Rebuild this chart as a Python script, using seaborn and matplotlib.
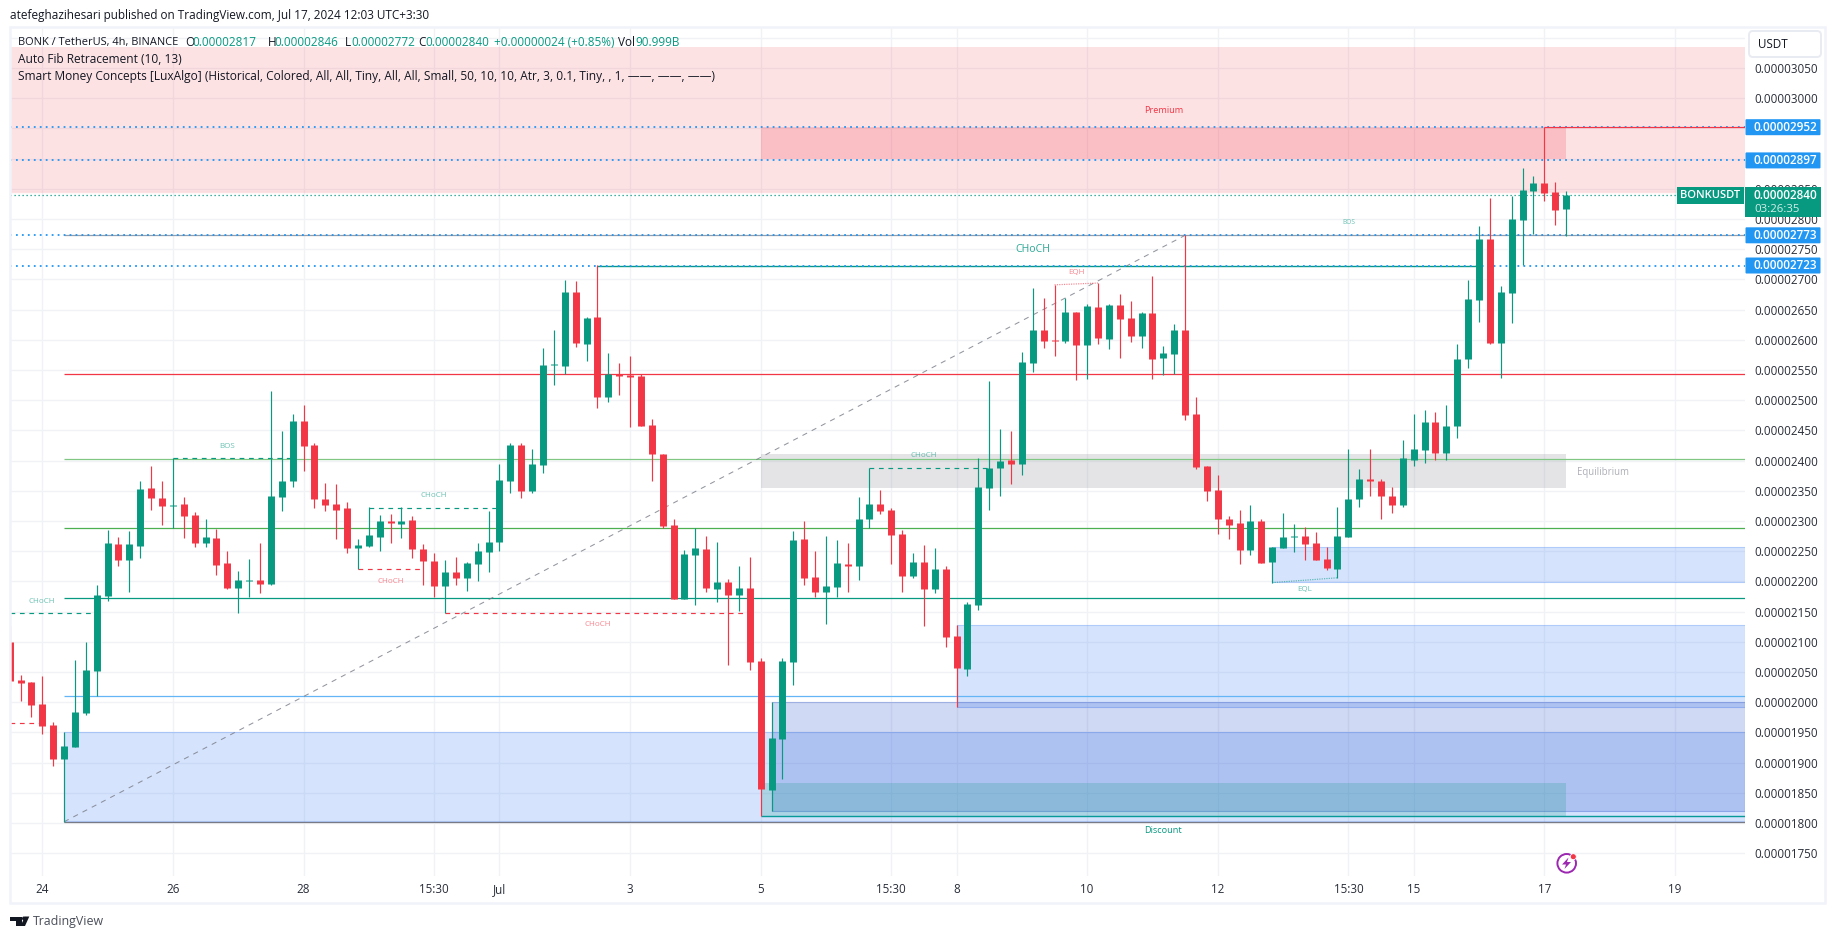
import numpy as np
import pandas as pd
import matplotlib
matplotlib.use("Agg")
import matplotlib.pyplot as plt
from matplotlib.colors import to_rgba
from matplotlib.patches import Rectangle, Circle, Polygon, FancyBboxPatch
import seaborn as sns

sns.set_theme(style="white")
plt.rcParams['font.family'] = ['Open Sans', 'DejaVu Sans']

# prices are in units of 1e-8 USDT, one 4h bar per entry, bar 0 = Jun 24 00:00
first_bar = -3
opens = [2100, 2037, 2033, 1997, 1962, 1906, 1926, 1982, 2052, 2176, 2262, 2235, 2259, 2355, 2338, 2325,
         2328, 2310, 2264, 2272, 2230, 2189, 2201, 2202, 2196, 2340, 2366, 2466, 2426, 2336, 2328, 2321,
         2255, 2259, 2273, 2300, 2295, 2302, 2254, 2234, 2192, 2216, 2206, 2229, 2249, 2265, 2366, 2426,
         2350, 2393, 2558, 2557, 2679, 2593, 2638, 2505, 2543, 2542, 2540, 2459, 2411, 2293, 2171, 2244,
         2254, 2187, 2199, 2177, 2189, 2068, 1855, 1939, 2067, 2270, 2207, 2182, 2191, 2229, 2226, 2303,
         2328, 2318, 2278, 2209, 2232, 2187, 2221, 2110, 2055, 2161, 2355, 2388, 2401, 2394, 2562, 2616,
         2600, 2598, 2646, 2591, 2654, 2601, 2658, 2636, 2606, 2644, 2570, 2576, 2616, 2477, 2391, 2351,
         2303, 2297, 2252, 2300, 2232, 2255, 2273, 2275, 2264, 2237, 2221, 2273, 2336, 2370, 2366, 2341,
         2326, 2401, 2418, 2464, 2413, 2457, 2568, 2666, 2767, 2595, 2677, 2798, 2846, 2860, 2845, 2817]
closes = [2035, 2032, 1995, 1961, 1906, 1927, 1984, 2053, 2177, 2264, 2235, 2262, 2353, 2338, 2325, 2327,
          2308, 2264, 2273, 2227, 2189, 2202, 2203, 2196, 2341, 2366, 2466, 2424, 2336, 2326, 2318, 2255,
          2260, 2277, 2300, 2297, 2300, 2254, 2234, 2192, 2216, 2206, 2230, 2250, 2265, 2368, 2426, 2350,
          2394, 2558, 2560, 2679, 2595, 2636, 2505, 2544, 2540, 2538, 2457, 2411, 2292, 2171, 2245, 2255,
          2189, 2199, 2177, 2189, 2067, 1856, 1941, 2068, 2269, 2206, 2182, 2192, 2230, 2226, 2303, 2328,
          2317, 2277, 2209, 2232, 2187, 2221, 2108, 2057, 2163, 2356, 2388, 2399, 2394, 2563, 2616, 2598,
          2598, 2646, 2591, 2656, 2603, 2658, 2634, 2606, 2644, 2568, 2578, 2616, 2475, 2389, 2350, 2303,
          2293, 2252, 2300, 2230, 2257, 2273, 2275, 2262, 2235, 2222, 2275, 2336, 2370, 2366, 2341, 2326,
          2404, 2419, 2464, 2413, 2457, 2568, 2668, 2767, 2595, 2679, 2800, 2848, 2860, 2843, 2815, 2840]
highs = [2126, 2045, 2033, 2043, 1967, 1950, 2070, 2100, 2194, 2285, 2274, 2283, 2366, 2391, 2366, 2404,
         2340, 2315, 2303, 2287, 2250, 2217, 2237, 2264, 2515, 2449, 2477, 2492, 2429, 2363, 2361, 2331,
         2270, 2323, 2310, 2312, 2323, 2308, 2262, 2247, 2235, 2240, 2232, 2264, 2317, 2394, 2429, 2429,
         2419, 2586, 2616, 2699, 2697, 2638, 2724, 2578, 2562, 2573, 2543, 2469, 2411, 2303, 2252, 2288,
         2275, 2265, 2204, 2225, 2240, 2073, 2000, 2073, 2283, 2300, 2250, 2275, 2269, 2264, 2340, 2388,
         2351, 2322, 2285, 2247, 2260, 2255, 2226, 2128, 2166, 2404, 2532, 2452, 2449, 2580, 2686, 2669,
         2691, 2669, 2646, 2659, 2694, 2659, 2676, 2664, 2646, 2706, 2590, 2626, 2773, 2505, 2391, 2376,
         2308, 2318, 2326, 2303, 2257, 2313, 2295, 2290, 2282, 2257, 2323, 2419, 2386, 2419, 2370, 2356,
         2434, 2477, 2484, 2480, 2492, 2593, 2699, 2788, 2835, 2689, 2838, 2884, 2871, 2953, 2861, 2846]
lows = [2020, 2002, 1975, 1947, 1894, 1802, 1926, 1979, 2010, 2168, 2225, 2182, 2239, 2318, 2293, 2288,
        2272, 2257, 2257, 2211, 2187, 2148, 2174, 2181, 2194, 2317, 2356, 2383, 2321, 2317, 2270, 2247,
        2220, 2257, 2250, 2264, 2272, 2239, 2194, 2174, 2147, 2194, 2184, 2201, 2216, 2250, 2346, 2338,
        2346, 2379, 2525, 2544, 2588, 2565, 2487, 2497, 2509, 2456, 2457, 2366, 2288, 2171, 2171, 2161,
        2182, 2166, 2061, 2151, 2053, 1812, 1820, 1873, 2028, 2194, 2174, 2129, 2174, 2182, 2202, 2288,
        2312, 2229, 2182, 2206, 2126, 2181, 2091, 1992, 2043, 2153, 2318, 2341, 2361, 2376, 2547, 2586,
        2573, 2595, 2533, 2535, 2593, 2585, 2570, 2596, 2586, 2535, 2542, 2544, 2467, 2386, 2333, 2278,
        2270, 2229, 2244, 2230, 2198, 2255, 2249, 2235, 2235, 2219, 2206, 2273, 2323, 2341, 2303, 2313,
        2323, 2391, 2396, 2401, 2401, 2437, 2553, 2629, 2593, 2537, 2628, 2724, 2775, 2830, 2790, 2772]

date_bars = [0, 12, 24, 36, 42, 54, 66, 78, 84, 96, 108, 120, 126, 138, 150]
date_labels = ['24', '26', '28', '15:30', 'Jul', '3', '5', '15:30', '8', '10', '12', '15:30', '15', '17', '19']
price_ticks = list(range(1750, 3101, 50))

# auto fib levels, start bar 2
fib_levels = [2544, 2402, 2288, 2173, 2010, 1802, 2773]
fib_colors = ['#f23645', '#81c784', '#4caf50', '#089981', '#64b5f6', '#787b86', '#9a9ca5']
fib_start = (2, 1802)
fib_end = (105, 2773)

# dotted levels with a price tag on the axis
level_prices = [2952, 2897, 2773, 2723]

# zones: left bar, right bar (None = runs to the axis), top, bottom, colour, alpha
premium = (None, None, 3084, 2845, '#f23645', .14)
supply = (66, 140, 2953, 2900, '#f23645', .2)
equilibrium = (66, 140, 2411, 2355, '#787b86', .2)
blocks = [(2, None, 1950, 1804, '#2f75f5', .2),
          (84, None, 2128, 1992, '#2f75f5', .2),
          (67, None, 2000, 1820, '#1441c3', .2),
          (113, None, 2257, 2199, '#2f75f5', .2)]
discount = (66, 140, 1867, 1812, '#089981', .2)

# structure breaks: start bar, end bar, start price, end price, label, label bar, label price
up = '#089981'
down = '#f23645'
dashed = [(-3, 5, 2147, 2147, up, 'CHoCH', 0, 2167),
          (-3, 0, 1966, 1966, down, '', 0, 0),
          (12, 23, 2404, 2404, up, 'BOS', 17, 2423),
          (30, 42, 2322, 2322, up, 'CHoCH', 36, 2342),
          (29, 35, 2220, 2220, down, 'CHoCH', 32, 2200),
          (37, 65, 2147, 2147, down, 'CHoCH', 51, 2129),
          (76, 87, 2388, 2388, up, 'CHoCH', 81, 2408)]
dotted = [(93, 97, 2691, 2694, down, 'EQH', 95, 2712),
          (113, 119, 2198, 2206, up, 'EQL', 116, 2186)]


def x_of(px):
    return (px - 42.3) / 10.884


def p_of(py):
    return 2000 + (702.2 - py) / 0.604


fig = plt.figure(figsize=(18.35, 9.39), dpi=100, facecolor='white')
ax = fig.add_axes([10 / 1835, 1 - 876 / 939, (1745 - 10) / 1835, (876 - 27) / 939])
x_left, x_right = x_of(10), x_of(1745)

bars = np.arange(first_bar, first_bar + len(opens))
side = np.where(np.array(closes) >= np.array(opens), 'up', 'down')
wicks = pd.DataFrame({'bar': np.r_[bars, bars], 'price': highs + lows, 'side': np.r_[side, side]})
bodies = pd.DataFrame({'bar': np.r_[bars, bars], 'price': opens + closes, 'side': np.r_[side, side]})
palette = {'up': '#089981', 'down': '#f23645'}

sns.lineplot(data=wicks, x='bar', y='price', units='bar', estimator=None, hue='side', palette=palette,
             linewidth=.85, solid_capstyle='butt', legend=False, ax=ax, zorder=6)
sns.lineplot(data=bodies, x='bar', y='price', units='bar', estimator=None, hue='side', palette=palette,
             linewidth=5.0, solid_capstyle='butt', legend=False, ax=ax, zorder=7)


def zone(spec, edge=False, zorder=2):
    left, right, top, bottom, color, alpha = spec
    left = x_left if left is None else left
    right = x_right if right is None else right
    ax.add_patch(Rectangle((left, bottom), right - left, top - bottom, zorder=zorder,
                           facecolor=to_rgba(color, alpha),
                           edgecolor=to_rgba(color, .3) if edge else 'none', linewidth=.8))


zone(premium)
ax.hlines(premium[3], x_left, x_right, color='#f23645', alpha=.15, lw=1.0, zorder=2)
zone(supply)
zone(equilibrium)
for block in blocks:
    zone(block, edge=True)
zone(discount)
ax.hlines(1812, 66, x_right, color='#089999', lw=1.0, zorder=3)

for level, color in zip(fib_levels, fib_colors):
    ax.hlines(level, fib_start[0], x_right, color=color, lw=.9, zorder=3)
ax.plot([fib_start[0], fib_end[0]], [fib_start[1], fib_end[1]], color='#787b86', lw=.75, alpha=.8,
        ls=(0, (5, 5)), zorder=4)

# dotted levels and last price
ax.hlines(level_prices, x_left, x_right, color='#2196f3', lw=1.3, linestyles=(0, (1, 2.3)), zorder=5)
ax.hlines(closes[-1], x_left, x_right, color='#089981', lw=.9, linestyles=(0, (1, 2.2)), zorder=5)
ax.hlines(2952, 138, x_right, color='#f23645', lw=.9, zorder=5)
ax.hlines(2723, 51, 132, color='#089981', lw=1.0, zorder=4)

for x0, x1, y0, y1, color, label, lx, ly in dashed:
    ax.plot([x0, x1], [y0, y1], color=color, lw=.85, ls=(0, (4, 4)), zorder=5)
    if label:
        ax.text(lx, ly, label, color=color, alpha=.6, fontsize=5.8, ha='center', va='center', zorder=5)
for x0, x1, y0, y1, color, label, lx, ly in dotted:
    ax.plot([x0, x1], [y0, y1], color=color, lw=.85, ls=(0, (1, 1)), alpha=.6, zorder=5)
    ax.text(lx, ly, label, color=color, alpha=.6, fontsize=5.8, ha='center', va='center', zorder=5)
ax.text(91, 2749, 'CHoCH', color='#089981', alpha=.85, fontsize=7.6, ha='center', va='center', zorder=5)
ax.text(120, 2794, 'BOS', color='#089981', alpha=.6, fontsize=4.8, ha='center', va='center', zorder=5)
ax.text(103, 2980, 'Premium', color='#f23645', fontsize=6.6, ha='center', va='center', zorder=5)
ax.text(143.4, 2381, 'Equilibrium', color='#787b86', alpha=.6, fontsize=6.9, ha='center', va='center', zorder=5)
ax.text(103, 1787, 'Discount', color='#089981', fontsize=6.6, ha='center', va='center', zorder=5)

ax.set_xlim(x_left, x_right)
ax.set_ylim(p_of(876), p_of(27))
ax.set_xticks(date_bars)
ax.set_xticklabels(date_labels)
ax.set_yticks(price_ticks)
# the 3100 label sits under the USDT button in the reference
ax.set_yticklabels([f"{p * 1e-8:.8f}" if p < 3100 else '' for p in price_ticks])
ax.yaxis.tick_right()
ax.tick_params(axis='y', length=0, pad=6.5, labelsize=8.4, labelcolor='#2a2e39')
ax.tick_params(axis='x', length=0, pad=5, labelsize=8.4, labelcolor='#2a2e39')
ax.set_xlabel('')
ax.set_ylabel('')
ax.grid(True, color='#f1f2f5', lw=1.0)
ax.set_axisbelow(True)
for spine in ax.spines.values():
    spine.set_visible(False)

# page furniture, in pixels of the published image
page = fig.add_axes([0, 0, 1, 1], zorder=10)
page.set_xlim(0, 1835)
page.set_ylim(939, 0)
page.axis('off')
page.add_patch(Rectangle((10, 27), 1815, 876, fill=False, edgecolor='#f0f3fa', lw=1.8))

dark = '#131722'
teal = '#089981'
page.text(9.7, 15, 'atefeghazihesari published on TradingView.com, Jul 17, 2024 12:03 UTC+3:30',
          fontsize=8.45, color=dark, va='center')
head = [(185.6, 'O', dark), (192.4, '0.00002817', teal),
        (268, 'H', dark), (274.4, '0.00002846', teal), (344.6, 'L', dark), (351, '0.00002772', teal),
        (418.3, 'C', dark), (425, '0.00002840', teal), (493.9, '+0.00000024 (+0.85%)', teal),
        (618, 'Vol', dark), (635, '90.999B', teal)]
page.text(17.9, 42, 'BONK / TetherUS, 4h, BINANCE', fontsize=7.95, color=dark, va='center')
for x, text, color in head:
    page.text(x, 42, text, fontsize=8.5, color=color, va='center')
page.text(17.9, 59.5, 'Auto Fib Retracement (10, 13)', fontsize=8.55, color=dark, va='center')
page.text(17.9, 76.5, 'Smart Money Concepts [LuxAlgo] (Historical, Colored, All, All, Tiny, All, All, Small, '
          '50, 10, 10, Atr, 3, 0.1, Tiny, , 1, \u2014\u2014, \u2014\u2014, \u2014\u2014)',
          fontsize=8.55, color=dark, va='center')

# USDT button
page.add_patch(FancyBboxPatch((1751, 33), 68, 22, boxstyle='round,pad=2,rounding_size=4', facecolor='white',
                              edgecolor='#e9ebf2', lw=1.4))
page.text(1758, 44, 'USDT', fontsize=8.4, color=dark, va='center')

# price tags
for price in level_prices:
    py = 702.2 - (price - 2000) * .604
    page.add_patch(FancyBboxPatch((1746, py - 7.5), 74, 15, boxstyle='round,pad=0.5,rounding_size=1',
                                  facecolor='#2196f3', edgecolor='none'))
    page.text(1785, py, f"{price * 1e-8:.8f}", fontsize=8.5, fontweight=600, color='white', ha='center', va='center')
page.add_patch(Rectangle((1745, 187), 76, 30, facecolor=teal, edgecolor='none'))
page.add_patch(Rectangle((1677, 187), 67, 17, facecolor=teal, edgecolor='none'))
page.text(1710.5, 195.5, 'BONKUSDT', fontsize=8.0, color='white', fontweight=600, ha='center', va='center')
page.text(1785, 195.5, f"{closes[-1] * 1e-8:.8f}", fontsize=8.5, fontweight=600, color='white', ha='center', va='center')
page.text(1777, 209.5, '03:26:35', fontsize=8.2, color='#d5efe9', ha='center', va='center')

# lightning badge
purple = '#9c27b0'
page.add_patch(Circle((1566.7, 863.3), 9.3, fill=False, edgecolor=purple, lw=1.4))
page.add_patch(Polygon([(1568.5, 857.5), (1562, 864.5), (1566, 864.5), (1564.5, 869), (1571, 862), (1567, 862)],
                       facecolor=purple, edgecolor='none'))
page.add_patch(Circle((1573.3, 856.7), 3, facecolor='#f23645', edgecolor='white', lw=.6))

# TradingView mark
logo = '#131722'
page.add_patch(Polygon([(10, 916.5), (21.5, 916.5), (21.5, 926), (15.5, 926), (15.5, 920.5), (10, 920.5)],
                       facecolor=logo, edgecolor='none'))
page.add_patch(Circle((24, 918.5), 2, facecolor=logo, edgecolor='none'))
page.add_patch(Polygon([(29.3, 916.5), (25, 926), (20.5, 926), (25, 916.5)], facecolor=logo, edgecolor='none'))
page.text(33, 921.5, 'TradingView', fontsize=8.9, color='#4a4e59', va='center')

fig.savefig('out.png', dpi=100)
